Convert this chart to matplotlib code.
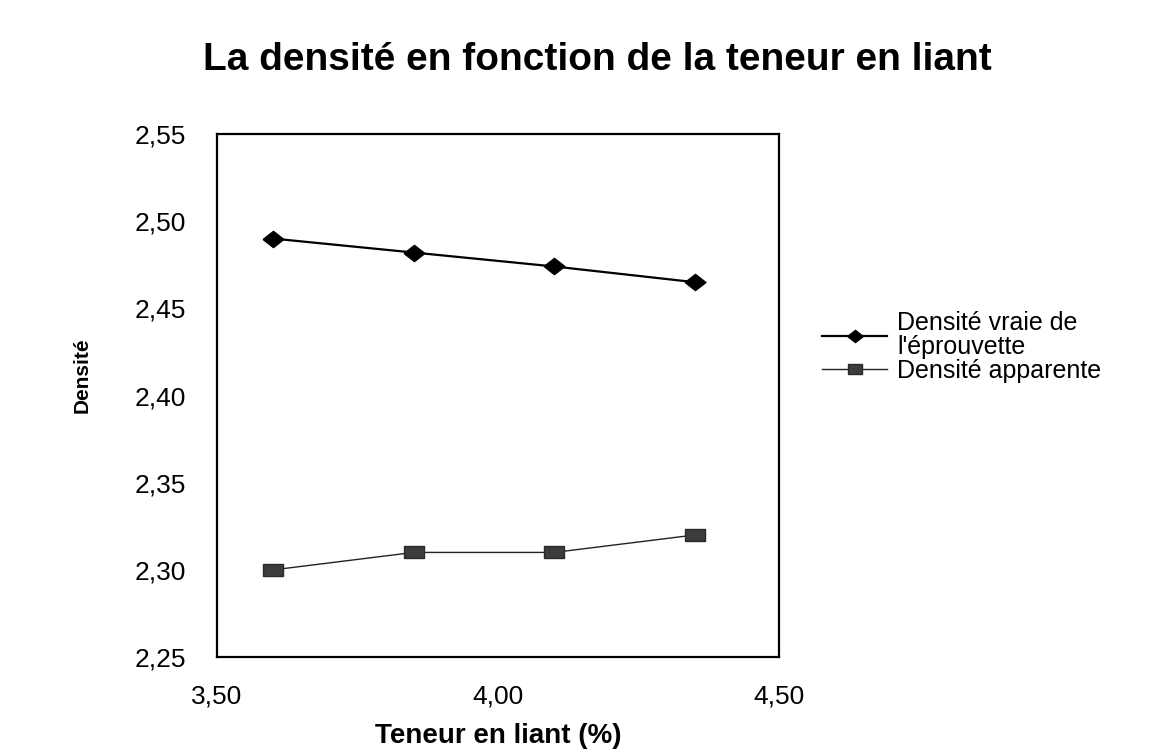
import matplotlib.pyplot as plt
from matplotlib.ticker import FuncFormatter, FixedLocator

plt.rcParams['font.family'] = ['Liberation Sans', 'DejaVu Sans']

# donnees
teneur = [3.60, 3.85, 4.10, 4.35]
densite_vraie = [2.490, 2.482, 2.474, 2.465]
densite_apparente = [2.30, 2.31, 2.31, 2.32]

y_ticks = [2.25, 2.30, 2.35, 2.40, 2.45, 2.50, 2.55]
x_ticks = [3.50, 4.00, 4.50]

# marqueurs un peu aplatis comme sur l'original
losange = [(-1, 0), (0, 0.78), (1, 0), (0, -0.78), (-1, 0)]
rectangle = [(-1, -0.66), (1, -0.66), (1, 0.66), (-1, 0.66), (-1, -0.66)]


def virgule(v, pos):
    return f"{v:.2f}".replace('.', ',')


fig = plt.figure(figsize=(11.71, 7.54), dpi=100)
ax = fig.add_axes([0.1853, 0.1286, 0.48, 0.6937])

ax.plot(teneur, densite_vraie, color='black', lw=1.6, marker=losange, ms=15,
        mfc='black', mec='black', label="Densité vraie de\nl'éprouvette")
ax.plot(teneur, densite_apparente, color='#222222', lw=1.0, marker=rectangle, ms=14,
        mfc='#3c3c3c', mec='#2a2a2a', label='Densité apparente')

ax.set_xlim(3.5, 4.5)
ax.set_ylim(2.25, 2.55)
ax.xaxis.set_major_locator(FixedLocator(x_ticks))
ax.yaxis.set_major_locator(FixedLocator(y_ticks))
ax.xaxis.set_major_formatter(FuncFormatter(virgule))
ax.yaxis.set_major_formatter(FuncFormatter(virgule))
ax.tick_params(axis='both', length=0, labelsize=19)
ax.tick_params(axis='y', pad=22)
ax.tick_params(axis='x', pad=20)
for s in ax.spines.values():
    s.set_linewidth(1.6)

ax.set_xlabel('Teneur en liant (%)', fontsize=20, fontweight='bold', va='center')
ax.xaxis.set_label_coords(0.5, -0.151)
ax.set_ylabel('Densité', fontsize=15, fontweight='bold', va='center',
              fontstretch='condensed')
ax.yaxis.set_label_coords(-0.240, 0.539)

fig.suptitle('La densité en fonction de la teneur en liant', fontsize=28,
             fontweight='bold', x=0.51, y=0.921, va='center')

leg = ax.legend(loc='upper left', bbox_to_anchor=(1.055, 0.685), frameon=False,
                fontsize=18, handlelength=2.6, handletextpad=0.4, labelspacing=0.0,
                borderpad=0, markerscale=0.75)
for t in leg.get_texts():
    t.set_linespacing(1.0)

fig.savefig('out.png', dpi=100)
